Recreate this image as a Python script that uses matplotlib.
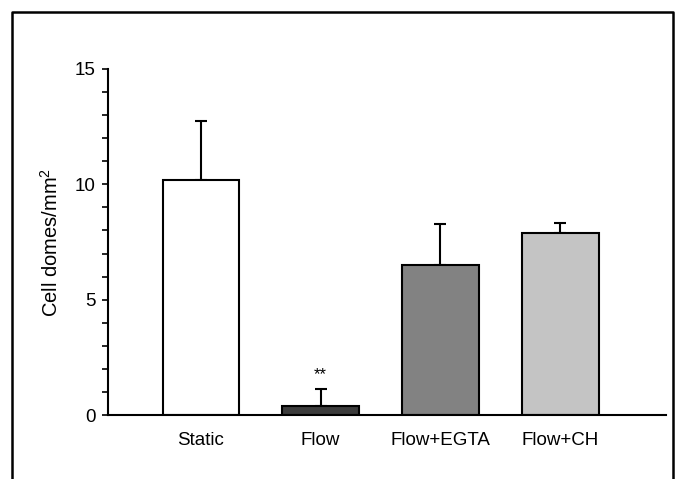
import matplotlib
matplotlib.use('Agg')
import matplotlib.pyplot as plt
from matplotlib.lines import Line2D
from matplotlib.ticker import MultipleLocator

plt.rcParams['font.family'] = ['Liberation Sans', 'DejaVu Sans']
plt.rcParams['mathtext.fontset'] = 'custom'
plt.rcParams['mathtext.rm'] = 'Liberation Sans'

groups = ['Static', 'Flow', 'Flow+EGTA', 'Flow+CH']
means = [10.2, 0.4, 6.5, 7.9]
errors = [2.55, 0.73, 1.78, 0.42]
colors = ['#ffffff', '#3c3c3c', '#828282', '#c4c4c4']

fig = plt.figure(figsize=(6.75, 4.79), dpi=100)
ax = fig.add_axes([0.16, 0.1336, 0.8267, 0.7224])

x = list(range(len(groups)))
ax.bar(x, means, width=0.64, color=colors, edgecolor='black', linewidth=1.5, zorder=2)
ax.errorbar(x, means, yerr=[[0] * len(errors), errors], fmt='none', ecolor='black',
            elinewidth=1.5, capsize=4, capthick=1.5, zorder=1)

ax.text(1, means[1] + errors[1] + 0.3, '**', ha='center', va='bottom', fontsize=12)

ax.set_xlim(-0.775, 3.883)
ax.set_ylim(0, 15)
ax.yaxis.set_major_locator(MultipleLocator(5))
ax.yaxis.set_minor_locator(MultipleLocator(1))
ax.set_xticks(x)
ax.set_xticklabels(groups, fontsize=13.5)
ax.tick_params(axis='x', length=0, pad=12)
ax.tick_params(axis='y', which='both', length=4, width=1.2, labelsize=13.5, pad=5)
ax.set_ylabel('Cell domes/mm$\\mathrm{^2}$', fontsize=14.5, labelpad=9)

for s in ['top', 'right']:
    ax.spines[s].set_visible(False)
for s in ['left', 'bottom']:
    ax.spines[s].set_linewidth(1.5)
ax.spines['left'].set_bounds(0, 15)

# outer frame (open at the bottom)
fx0, fx1, fy1 = 12 / 675, 673 / 675, 1 - 12 / 479
fig.add_artist(Line2D([fx0, fx0, fx1, fx1], [0, fy1, fy1, 0], color='black',
                      linewidth=1.8, transform=fig.transFigure))

fig.savefig('out.png', dpi=100)
